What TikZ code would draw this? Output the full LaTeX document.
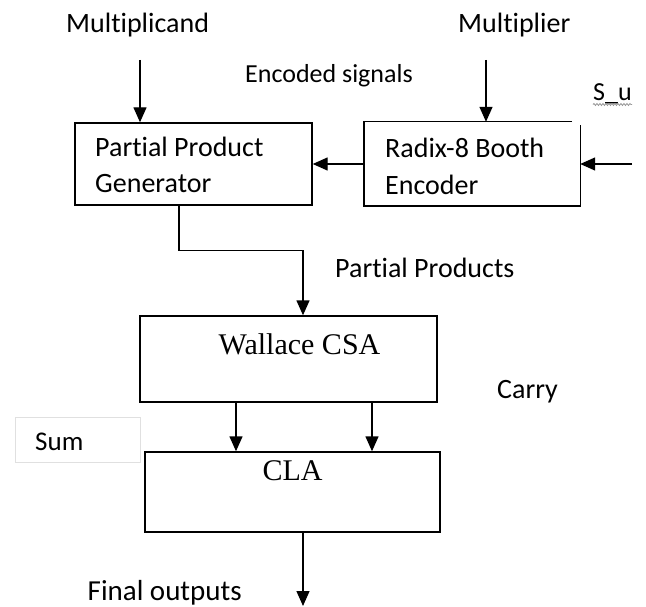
\documentclass[tikz,border=0pt]{standalone}
\usepackage{fontspec}
\setmainfont{Carlito}[Ligatures=NoCommon]
\newfontfamily\serifface{Liberation Serif}
\usetikzlibrary{arrows.meta,decorations.pathmorphing}
\begin{document}
\begin{tikzpicture}[x=1pt,y=-1pt,
  blk/.style={draw, line width=1.4pt, inner sep=0pt},
  arr/.style={line width=1.4pt, -{Triangle[length=15pt,width=13pt]}},
  lbl/.style={anchor=base west, inner sep=0pt, font=\fontsize{28}{33}\selectfont},
  sertxt/.style={anchor=base, inner sep=0pt, font=\serifface\fontsize{30}{36}\selectfont}]
\useasboundingbox (0,0) rectangle (646,607);
% blocks
\node[blk, minimum width=237pt, minimum height=82pt] (ppg) at (193.5,164) {};
\node[inner sep=0pt, minimum width=216pt, minimum height=84pt] (booth) at (472,164) {};
\draw[line width=1.4pt] ([xshift=-8pt]booth.north east) -- (booth.north west) -- (booth.south west) -- (booth.south east) -- ([yshift=-3pt]booth.north east);
\node[blk, minimum width=297pt, minimum height=86pt] (wal) at (288.5,359) {};
\node[blk, minimum width=295pt, minimum height=80pt] (cla) at (292.5,492) {};
\node[draw=black!12, line width=1pt, minimum width=125pt, minimum height=45pt, inner sep=0pt] (sumbox) at (77.5,439.5) {};
% texts
\node[lbl] (t1) at (66,33) {Multiplicand};
\node[lbl] (t2) at (458,33) {Multiplier};
\node[lbl, font=\fontsize{26}{31}\selectfont] (t3) at (245,83) {Encoded signals};
\node[lbl, font=\fontsize{26}{31}\selectfont] (t4) at (593,101) {S\_u};
\draw[gray!80, line width=0.8pt, decorate, decoration={snake, amplitude=1pt, segment length=3pt}] (t4.base west) ++(0,3.5) -- ++(39,0);
\node[lbl] (t5) at (95,157) {Partial Product};
\node[lbl] (t6) at (95,193) {Generator};
\node[lbl] (t7) at (385,158) {Radix-8 Booth};
\node[lbl] (t8) at (385,195) {Encoder};
\node[lbl] (t9) at (335,277) {Partial Products};
\node[sertxt] (t10) at (299.5,354) {Wallace CSA};
\node[lbl] (t11) at (497,398) {Carry};
\node[lbl, font=\fontsize{27}{32}\selectfont] (t12) at (35,450) {Sum};
\node[sertxt] (t13) at (292.5,480) {CLA};
\node[lbl, anchor=base east, font=\fontsize{29}{34}\selectfont] (t14) at (242,600) {Final outputs};
% connectors
\coordinate (mcin) at (140,60);
\coordinate (mpin) at (486,60);
\coordinate (suin) at (632,164);
\coordinate (fout) at (303,606);
\draw[arr] (mcin) -- (mcin |- ppg.north);
\draw[arr] (mpin) -- (mpin |- booth.north);
\draw[arr] (booth.west) -- (ppg.east);
\draw[arr] (suin) -- (booth.east);
\draw[arr] ([xshift=-14.5pt]ppg.south) -- ++(0,45) -| ([xshift=14.5pt]wal.north);
\draw[arr] ([xshift=-52.5pt]wal.south) -- ([xshift=-52.5pt]wal.south |- cla.north);
\draw[arr] ([xshift=83.5pt]wal.south) -- ([xshift=83.5pt]wal.south |- cla.north);
\draw[arr] ([xshift=10.5pt]cla.south) -- (fout);
\end{tikzpicture}
\end{document}
